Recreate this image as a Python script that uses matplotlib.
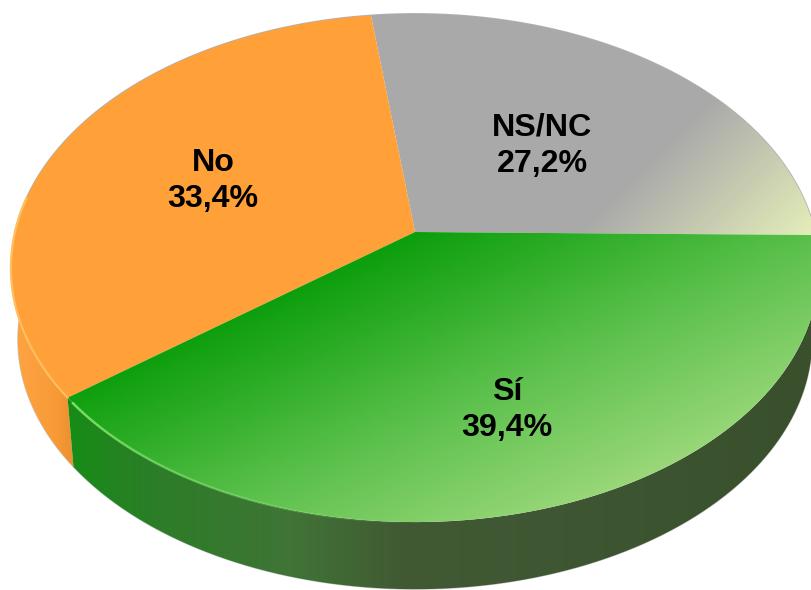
import numpy as np
import matplotlib
matplotlib.use('Agg')
import matplotlib.pyplot as plt
from matplotlib.collections import LineCollection
from matplotlib.colors import LinearSegmentedColormap
from matplotlib.patches import PathPatch
from matplotlib.path import Path

labels = ['NS/NC', 'No', 'Sí']
values = [27.2, 33.4, 39.4]
value_text = ['27,2%', '33,4%', '39,4%']

W, H = 811, 590
APEX = (415, 232)
START = np.deg2rad(-0.7)
RX, RY, PERSP = 400, 249, 0.1416  # tilt of the disc
VANISH_Y, DEPTH = 4470, 0.983  # lower rim is the upper one pulled to a far point


def top_xy(ang):
    # angle on the disc -> picture pixels
    u, v = np.cos(ang), np.sin(ang)
    d = 1 + PERSP * v
    return APEX[0] + RX * u / d, APEX[1] - RY * v / d


def low_xy(ang):
    x, y = top_xy(ang)
    return APEX[0] + DEPTH * (x - APEX[0]), VANISH_Y + DEPTH * (y - VANISH_Y)


def grad_fill(ax, xs, ys, rgb_fn, zorder):
    # paint a gradient image and clip it to the polygon
    path = Path(np.column_stack([np.r_[xs, xs[0]], np.r_[ys, ys[0]]]), closed=False)
    patch = PathPatch(path, fc='none', ec='none', transform=ax.transData)
    ax.add_patch(patch)
    gx, gy = np.meshgrid(np.arange(W) + 0.5, np.arange(H) + 0.5)
    im = ax.imshow(rgb_fn(gx, gy), extent=(0, W, H, 0), zorder=zorder, aspect='auto',
                   interpolation='bilinear')
    im.set_clip_path(patch)


def c(*cols):
    return LinearSegmentedColormap.from_list('g', [(p, tuple(np.array(k) / 255)) for p, k in cols])


green_top = c((0, (12, 158, 12)), (0.45, (90, 192, 75)), (1, (180, 225, 140)))
gray_top = c((0, (169, 169, 169)), (1, (228, 238, 184)))
orange_top = c((0, (255, 160, 56)), (1, (255, 160, 56)))
green_side = c((0, (22, 140, 22)), (0.12, (44, 125, 40)), (0.3, (64, 116, 54)), (0.45, (65, 90, 52)),
               (1, (58, 80, 45)))
orange_side = c((0, (255, 165, 68)), (0.7, (248, 155, 55)), (1, (235, 143, 48)))


def f_green(gx, gy):
    t = (gx - 415) * 0.0011 + (gy - 232) * 0.0024
    return green_top(np.clip(t, 0, 1))[:, :, :3]


def f_gray(gx, gy):
    t = ((gx - 611) * 0.7 + (gy - 150) * 0.7 - 35) / 165
    return gray_top(np.clip(t, 0, 1))[:, :, :3]


def f_orange(gx, gy):
    return orange_top(np.zeros_like(gx))[:, :, :3]


def f_side_green(gx, gy):
    return green_side(np.clip((gx - 66) / 745, 0, 1))[:, :, :3]


def f_side_orange(gx, gy):
    return orange_side(np.clip((gx - 10) / 64, 0, 1))[:, :, :3]


top_fill = [f_gray, f_orange, f_green]
side_fill = [None, f_side_orange, f_side_green]

fig = plt.figure(figsize=(W / 100, H / 100), dpi=100)
ax = fig.add_axes([0, 0, 1, 1])

edges = START + np.r_[0, np.cumsum(values)] / sum(values) * 2 * np.pi

# side walls first, the top face covers what is behind
for i in range(len(values)):
    if side_fill[i] is None:
        continue
    a = np.linspace(max(edges[i], np.deg2rad(160)), edges[i + 1], 200)
    x1, y1 = top_xy(a)
    x2, y2 = low_xy(a)
    grad_fill(ax, np.r_[x1, x2[::-1]], np.r_[y1, y2[::-1]], side_fill[i], 1)

# soft grey shadow line round the outside
a = np.linspace(np.deg2rad(160), np.deg2rad(360), 300)
ax.plot(*low_xy(a), color='#b0b0b0', lw=0.8, alpha=0.7, zorder=0.5)
a = np.linspace(0, np.deg2rad(180), 300)
ax.plot(*top_xy(a), color='#909090', lw=1.2, alpha=0.7, zorder=0.5)

# top face
for i in range(len(values)):
    a = np.linspace(edges[i], edges[i + 1], 200)
    x, y = top_xy(a)
    grad_fill(ax, np.r_[APEX[0], x], np.r_[APEX[1], y], top_fill[i], 2)

# bevel highlight along the front rim
a = np.linspace(np.deg2rad(172), edges[2], 100)
ax.plot(*top_xy(a), color='#ffbe60', lw=1.6, zorder=3, solid_capstyle='round')

a = np.linspace(edges[2] + 0.02, np.deg2rad(272), 100)
x, y = top_xy(a)
pts = np.column_stack([x, y])
segs = np.stack([pts[:-1], pts[1:]], axis=1)
fade = np.linspace(0.95, 0, len(segs))
cols = np.column_stack([np.tile([0.5, 0.9, 0.42], (len(segs), 1)), fade])
ax.add_collection(LineCollection(segs, colors=cols, linewidths=1.8, zorder=3))

text_pos = [(542, 146), (213, 181), (507, 410)]
for i in range(len(labels)):
    ax.text(text_pos[i][0], text_pos[i][1], labels[i] + '\n' + value_text[i], ha='center', va='center',
            fontsize=23.2, fontweight='bold', family='Liberation Sans', color='black', zorder=5,
            linespacing=1.28)

ax.set_xlim(0, W)
ax.set_ylim(H, 0)
ax.axis('off')
fig.savefig('out.png', dpi=100)
